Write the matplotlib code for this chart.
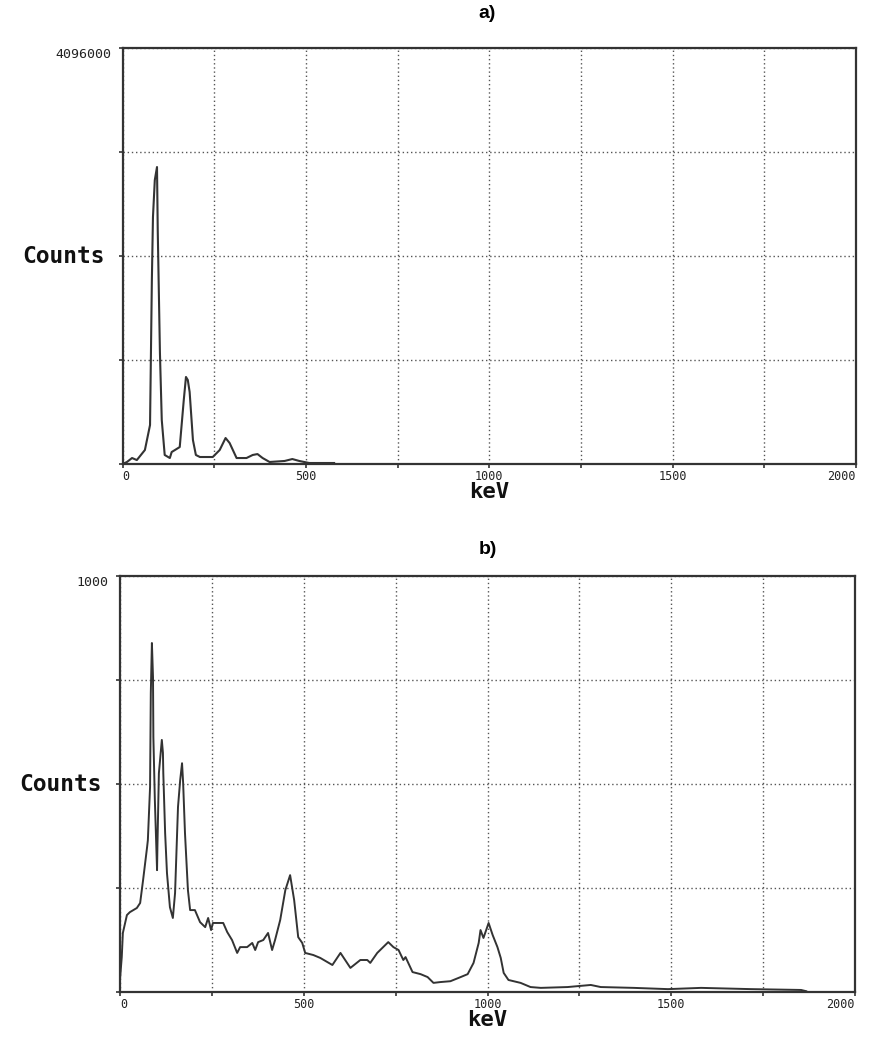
import matplotlib
matplotlib.use("Agg")
from matplotlib import pyplot as plt

# spectrum a) - energy (keV) and counts
kev_a = [0, 12, 26, 39, 61, 75, 80, 83, 88, 94, 96, 102, 107, 115, 129, 134, 156,
         167, 173, 178, 183, 192, 200, 211, 246, 265, 281, 292, 311, 338, 355, 368,
         382, 401, 442, 463, 482, 509, 577]
counts_a = [0, 20000, 59000, 39000, 138000, 384000, 1811000, 2432000, 2796000,
            2924000, 2304000, 1093000, 433000, 89000, 59000, 118000, 167000, 630000,
            857000, 827000, 709000, 236000, 89000, 69000, 69000, 138000, 256000,
            207000, 59000, 59000, 89000, 98000, 59000, 20000, 30000, 49000, 30000,
            10000, 10000]

# spectrum b)
kev_b = [0, 5, 8, 19, 27, 46, 55, 63, 74, 76, 82, 84, 87, 90, 91, 95, 101, 102,
         106, 114, 117, 118, 123, 128, 136, 144, 150, 158, 164, 169, 172, 177, 185,
         191, 204, 218, 232, 240, 248, 253, 281, 292, 305, 319, 327, 346, 360, 368,
         376, 390, 403, 414, 422, 436, 450, 463, 474, 485, 496, 504, 526, 545, 578,
         600, 627, 654, 673, 681, 700, 730, 744, 758, 771, 777, 796, 818, 837, 853,
         872, 899, 927, 946, 962, 976, 981, 989, 1003, 1014, 1027, 1036, 1044, 1057,
         1090, 1117, 1145, 1218, 1281, 1308, 1398, 1491, 1581, 1717, 1853, 1867]
counts_b = [29, 84, 142, 185, 192, 202, 214, 269, 349, 365, 493, 719, 839, 757, 613,
            462, 293, 349, 526, 606, 575, 526, 382, 286, 204, 178, 238, 445, 510,
            550, 502, 382, 245, 197, 197, 168, 156, 178, 149, 166, 166, 144, 125, 94,
            108, 108, 118, 101, 120, 125, 142, 101, 125, 173, 245, 281, 221, 132,
            118, 94, 89, 82, 65, 94, 58, 77, 77, 70, 94, 120, 108, 101, 77, 84, 48,
            43, 36, 22, 24, 26, 36, 43, 70, 118, 149, 130, 166, 137, 108, 82, 46,
            29, 22, 12, 10, 12, 17, 12, 10, 7, 10, 7, 5, 2]

xticks = [0, 250, 500, 750, 1000, 1250, 1500, 1750, 2000]
xlabels = ["0", "", "500", "", "1000", "", "1500", "", "2000"]

ink = "#333333"
mono = "DejaVu Sans Mono"

fig = plt.figure(figsize=(8.69, 10.39), dpi=100)
ax1 = fig.add_axes([0.141, 0.5534, 0.844, 0.4004])
ax2 = fig.add_axes([0.138, 0.0452, 0.846, 0.4004])


def setup(ax, ymax):
    ax.set_xlim(0, 2000)
    ax.set_ylim(0, ymax)
    ax.set_xticks(xticks)
    ax.set_xticklabels(xlabels, family=mono, fontsize=8.5, color="#222222")
    ax.set_yticks([ymax * k / 4 for k in range(5)])
    ax.set_yticklabels(["", "", "", "", str(ymax)], family=mono, fontsize=9.5,
                       color="#222222", va="top")
    ax.tick_params(direction="out", length=3, width=1.2, color=ink)
    ax.tick_params(axis="x", pad=1)
    ax.tick_params(axis="y", pad=5)
    lbls = ax.get_xticklabels()
    lbls[0].set_ha("left")
    lbls[-1].set_ha("right")
    ax.grid(True, linestyle=(0, (1, 2)), color="#555555", linewidth=1)
    ax.set_axisbelow(True)
    for s in ax.spines.values():
        s.set_linewidth(1.6)
        s.set_color(ink)
    ax.text(-0.137, 0.5, "Counts", transform=ax.transAxes, family=mono,
            weight="bold", fontsize=16.5, ha="left", va="center", color="#111111")
    ax.text(0.5, -0.043, "keV", transform=ax.transAxes, family=mono,
            weight="bold", fontsize=16, ha="center", va="top", color="#111111")


ax1.plot(kev_a, counts_a, color=ink, linewidth=1.5)
setup(ax1, 4096000)
ax2.plot(kev_b, counts_b, color=ink, linewidth=1.4)
setup(ax2, 1000)

fig.text(0.561, 1 - 13 / 1039, "a)", fontsize=14, weight="bold",
         family="Liberation Sans", ha="center", va="center")
fig.text(0.561, 1 - 549 / 1039, "b)", fontsize=14, weight="bold",
         family="Liberation Sans", ha="center", va="center")

fig.savefig("out.png", dpi=100, facecolor="white")
